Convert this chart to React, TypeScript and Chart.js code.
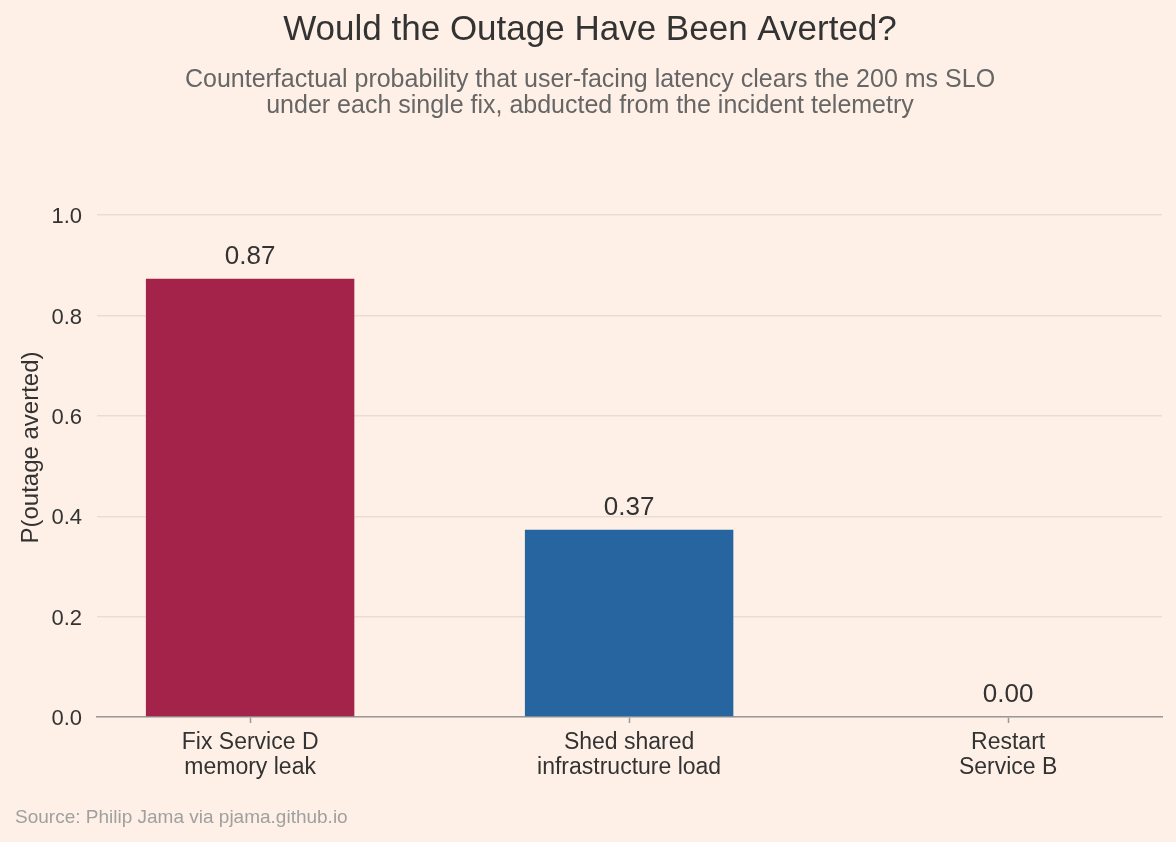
import { useEffect, useRef } from 'react';
import { Chart, registerables } from 'chart.js';

Chart.register(...registerables);

const categories = [
  ['Fix Service D', 'memory leak'],
  ['Shed shared', 'infrastructure load'],
  ['Restart', 'Service B'],
];
const averted = [0.873, 0.373, 0.0];
const barColors = ['#a3234a', '#2765a0', '#8a8a8a'];
const yTicks = [0, 0.2, 0.4, 0.6, 0.8, 1.0];

const title = 'Would the Outage Have Been Averted?';
const subtitle = [
  'Counterfactual probability that user-facing latency clears the 200 ms SLO',
  'under each single fix, abducted from the incident telemetry',
];
const source = 'Source: Philip Jama via pjama.github.io';

const BG = '#fef0e6';
const FONT = '"Liberation Sans", Arial, sans-serif';

const textPlugin = {
  id: 'textPlugin',
  beforeDraw(chart: Chart) {
    const { ctx, width, height } = chart;
    ctx.save();
    ctx.fillStyle = BG;
    ctx.fillRect(0, 0, width, height);
    ctx.restore();
  },
  afterDraw(chart: Chart) {
    const { ctx, width } = chart;
    ctx.save();
    ctx.textAlign = 'center';
    ctx.textBaseline = 'alphabetic';
    ctx.fillStyle = '#333333';
    ctx.font = `35px ${FONT}`;
    ctx.fillText(title, width / 2 + 2, 40);

    ctx.fillStyle = '#666666';
    ctx.font = `25px ${FONT}`;
    subtitle.forEach((line, i) => ctx.fillText(line, width / 2 + 2, 87 + i * 26));

    // value labels above bars
    const meta = chart.getDatasetMeta(0);
    ctx.fillStyle = '#333333';
    ctx.font = `26px ${FONT}`;
    ctx.textBaseline = 'middle';
    meta.data.forEach((bar, i) => {
      const { x, y } = bar.getProps(['x', 'y'], true);
      ctx.fillText(averted[i].toFixed(2), x, y - 22);
    });

    ctx.textAlign = 'left';
    ctx.textBaseline = 'alphabetic';
    ctx.fillStyle = '#a0a0a0';
    ctx.font = `19px ${FONT}`;
    ctx.fillText(source, 15, 823);
    ctx.restore();
  },
};

export default function App() {
  const chartRef = useRef<HTMLCanvasElement>(null);
  const chartInstance = useRef<Chart | null>(null);

  useEffect(() => {
    document.body.style.margin = '0';
    document.body.style.background = BG;
    if (!chartRef.current) return;
    if (chartInstance.current) chartInstance.current.destroy();
    const ctx = chartRef.current.getContext('2d');
    if (!ctx) return;

    chartInstance.current = new Chart(ctx, {
      type: 'bar',
      data: {
        datasets: [
          {
            data: averted.map((v, i) => ({ x: i, y: v })),
            backgroundColor: barColors,
            borderWidth: 0,
            categoryPercentage: 0.55,
            barPercentage: 1.0,
          },
        ],
      },
      options: {
        animation: false,
        responsive: false,
        maintainAspectRatio: false,
        layout: { padding: { top: 178, right: 14, left: 0, bottom: 0 } },
        plugins: {
          legend: { display: false },
          tooltip: { enabled: false },
        },
        scales: {
          x: {
            type: 'linear',
            min: -0.404,
            max: 2.406,
            offset: false,
            afterBuildTicks: (scale: any) => {
              scale.ticks = categories.map((_, i) => ({ value: i }));
            },
            afterFit: (scale: any) => {
              scale.height = 125;
            },
            grid: {
              display: true,
              drawOnChartArea: false,
              drawTicks: true,
              tickLength: 6,
              tickWidth: 1.5,
              color: '#999999',
              offset: false,
            },
            border: { display: true, color: '#999999', width: 1.5 },
            ticks: {
              autoSkip: false,
              maxRotation: 0,
              padding: 8,
              color: '#333333',
              font: { family: FONT, size: 23, lineHeight: 1.05 },
              callback: (value: any) => categories[Math.round(Number(value))] ?? '',
            },
          },
          y: {
            min: 0,
            max: 1.074,
            afterBuildTicks: (scale: any) => {
              scale.ticks = yTicks.map((v) => ({ value: v }));
            },
            afterFit: (scale: any) => {
              scale.width = 97;
            },
            grid: {
              color: '#e8ddd5',
              lineWidth: 1.5,
              drawTicks: false,
            },
            border: { display: false },
            ticks: {
              padding: 15,
              labelOffset: 2,
              color: '#333333',
              font: { family: FONT, size: 22 },
              callback: (value: any) => Number(value).toFixed(1),
            },
            title: {
              display: true,
              text: 'P(outage averted)',
              color: '#333333',
              font: { family: FONT, size: 24 },
              padding: { top: 17, bottom: 0 },
            },
          },
        },
      },
      plugins: [textPlugin],
    });

    return () => {
      if (chartInstance.current) {
        chartInstance.current.destroy();
        chartInstance.current = null;
      }
    };
  }, []);

  return (
    <div style={{ width: 1176, height: 842, background: BG }}>
      <canvas ref={chartRef} width={1176} height={842} style={{ display: 'block', width: 1176, height: 842 }} />
    </div>
  );
}
